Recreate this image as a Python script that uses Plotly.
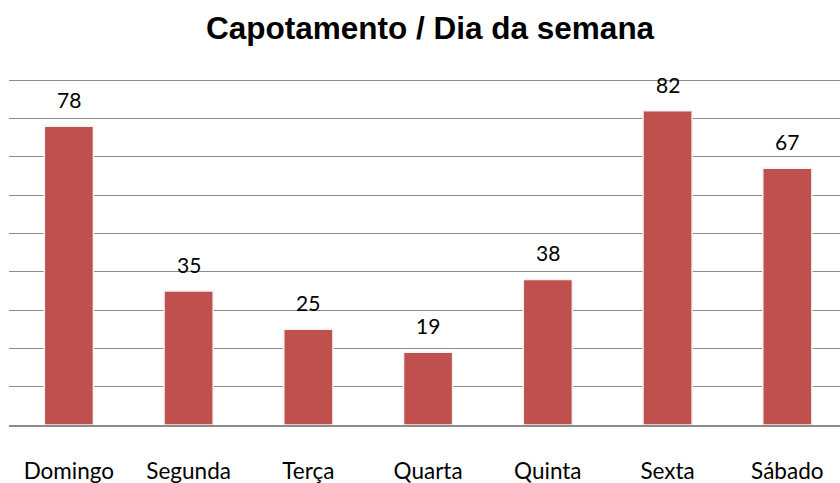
import plotly.graph_objects as go

categories = ["Domingo", "Segunda", "Terça", "Quarta", "Quinta", "Sexta", "Sábado"]
values = [78, 35, 25, 19, 38, 82, 67]

fig = go.Figure()
fig.add_trace(go.Bar(
    x=categories, y=values,
    marker=dict(color="#C0504D", line=dict(color="#F2F2F2", width=1.5)),
    width=0.41,
))
for c, v in zip(categories, values):
    fig.add_annotation(x=c, y=v, text=str(v), showarrow=False, yanchor="bottom",
                       yshift=12, font=dict(family="Lato, Open Sans, sans-serif", size=21, color="#000"))

fig.update_layout(
    width=840, height=483,
    margin=dict(l=9, r=0, t=79, b=58),
    paper_bgcolor="white", plot_bgcolor="white",
    title=dict(text="<b>Capotamento / Dia da semana</b>", x=0.512, xanchor="center",
               y=0.942, yanchor="middle",
               font=dict(family="Liberation Sans, Arial, sans-serif", size=31.5, color="#000")),
    showlegend=False,
)
fig.update_yaxes(range=[0, 90.3], dtick=10, showticklabels=False, showgrid=True,
                 gridcolor="#8C8C8C", gridwidth=1.3, zeroline=False, showline=False)
fig.update_xaxes(range=[-0.5, 6.44], showline=True, linecolor="#8C8C8C", linewidth=1.5,
                 ticks="outside", ticklen=25, tickcolor="rgba(0,0,0,0)",
                 tickfont=dict(family="Lato, Open Sans, sans-serif", size=22.5, color="#000"))

fig.write_html("out.html", config={"displayModeBar": False},
               post_script="document.body.style.margin='0';")
